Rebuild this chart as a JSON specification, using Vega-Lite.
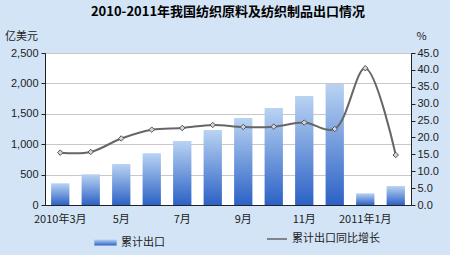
{
  "$schema": "https://vega.github.io/schema/vega-lite/v6.json",
  "width": 366,
  "height": 152,
  "autosize": {"type": "none"},
  "padding": {"left": 45, "top": 53, "right": 39, "bottom": 50},
  "background": "#d2e4f6",
  "config": {
    "view": {"fill": "white", "stroke": "#606060"},
    "font": "Liberation Sans",
    "axis": {"labelFont": "Liberation Sans", "labelFontSize": 11, "labelColor": "#222", "domainColor": "#222", "tickColor": "#222", "titleFont": "Noto Sans CJK SC", "titleFontWeight": "normal", "titleFontSize": 11, "titleColor": "#222"},
    "legend": {"labelFont": "Noto Sans CJK SC", "labelFontSize": 11, "labelColor": "#222"}
  },
  "title": {
    "text": "2010-2011年我国纺织原料及纺织制品出口情况",
    "font": "Noto Sans CJK SC",
    "fontSize": 13,
    "fontWeight": "bold",
    "color": "black",
    "anchor": "middle",
    "offset": 11
  },
  "data": {
    "values": [
      {"month": "2010年3月", "export": 357, "growth": 15.5},
      {"month": "4月", "export": 505, "growth": 15.7},
      {"month": "5月", "export": 674, "growth": 19.7},
      {"month": "6月", "export": 850, "growth": 22.3},
      {"month": "7月", "export": 1052, "growth": 22.8},
      {"month": "8月", "export": 1233, "growth": 23.7},
      {"month": "9月", "export": 1431, "growth": 23.1},
      {"month": "10月", "export": 1595, "growth": 23.2},
      {"month": "11月", "export": 1793, "growth": 24.4},
      {"month": "12月", "export": 1990, "growth": 22.5},
      {"month": "2011年1月", "export": 192, "growth": 40.5},
      {"month": "2月", "export": 312, "growth": 14.8}
    ]
  },
  "encoding": {
    "x": {
      "field": "month",
      "type": "ordinal",
      "sort": null,
      "scale": {"paddingInner": 0.4, "paddingOuter": 0.2},
      "axis": {
        "title": null,
        "labelAngle": 0,
        "ticks": false,
        "labelFont": "Noto Sans CJK SC",
        "labelFontSize": 11,
        "labelPadding": 8,
        "labelExpr": "indexof(['2010年3月','5月','7月','9月','11月','2011年1月'], datum.value) >= 0 ? datum.value : ''"
      }
    }
  },
  "layer": [
    {
      "mark": {
        "type": "bar",
        "fill": {"gradient": "linear", "x1": 0, "y1": 0, "x2": 0, "y2": 1, "stops": [{"offset": 0, "color": "#b9d3f2"}, {"offset": 1, "color": "#2c62c6"}]}
      },
      "encoding": {
        "y": {
          "field": "export",
          "type": "quantitative",
          "scale": {"domain": [0, 2500]},
          "axis": {
            "title": "亿美元",
            "titleAngle": 0,
            "titleAlign": "center",
            "titleBaseline": "middle",
            "titleX": -24,
            "titleY": -17,
            "values": [0, 500, 1000, 1500, 2000, 2500],
            "format": ",.0f",
            "tickSize": 4,
            "labelPadding": 3,
            "grid": true,
            "gridColor": "#c8c8c8"
          }
        },
        "opacity": {
          "datum": "累计出口",
          "scale": {"range": [1]},
          "legend": {
            "title": null,
            "orient": "none",
            "legendX": 49,
            "legendY": 178,
            "symbolType": "M-1,-0.27H1V0.27H-1Z",
            "symbolSize": 500,
            "symbolFillColor": "#7a9fd8",
            "symbolStrokeWidth": 0
          }
        }
      }
    },
    {
      "mark": {"type": "line", "interpolate": "catmull-rom", "strokeWidth": 2},
      "encoding": {
        "y": {
          "field": "growth",
          "type": "quantitative",
          "scale": {"domain": [0, 45]},
          "axis": {
            "orient": "right",
            "title": "%",
            "titleAngle": 0,
            "titleAlign": "center",
            "titleBaseline": "middle",
            "titleX": 10,
            "titleY": -17,
            "values": [0, 5, 10, 15, 20, 25, 30, 35, 40, 45],
            "format": ".1f",
            "tickSize": 4,
            "grid": false
          }
        },
        "stroke": {
          "datum": "累计出口同比增长",
          "scale": {"range": ["#666666"]},
          "legend": {
            "title": null,
            "orient": "none",
            "legendX": 221,
            "legendY": 175,
            "symbolType": "stroke",
            "symbolSize": 400,
            "symbolStrokeWidth": 1.5
          }
        }
      }
    },
    {
      "mark": {"type": "point", "shape": "diamond", "filled": true, "size": 30, "fill": "#c9d6e6", "stroke": "#555555", "strokeWidth": 1, "opacity": 1},
      "encoding": {
        "y": {"field": "growth", "type": "quantitative", "scale": {"domain": [0, 45]}, "axis": null}
      }
    }
  ],
  "resolve": {"scale": {"y": "independent", "opacity": "independent", "stroke": "independent"}}
}
